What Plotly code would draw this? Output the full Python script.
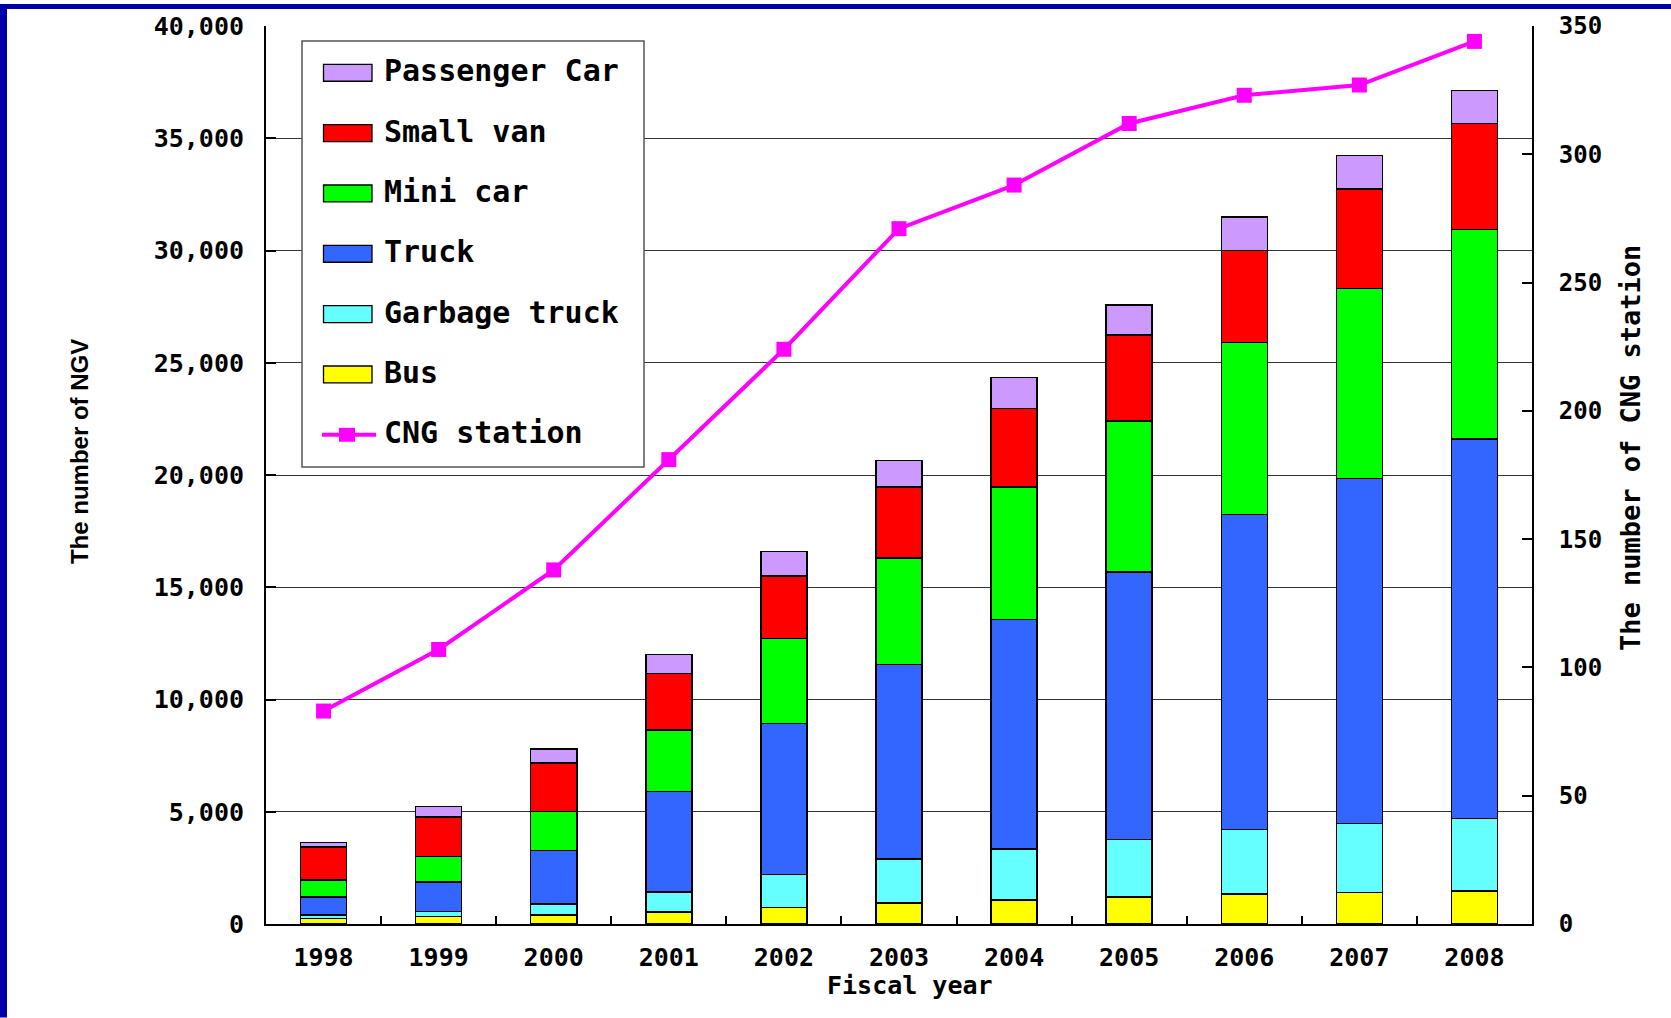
import plotly.graph_objects as go

# ---------------- data ----------------
years = ["1998", "1999", "2000", "2001", "2002", "2003", "2004", "2005", "2006", "2007", "2008"]

bus = [250, 325, 400, 533, 725, 932, 1065, 1198, 1331, 1406, 1465]
garbage_truck = [150, 222, 488, 887, 1479, 1953, 2278, 2560, 2886, 3077, 3225]
truck = [813, 1332, 2397, 4480, 6726, 8685, 10217, 11932, 14023, 15367, 16910]
mini_car = [740, 1139, 1731, 2740, 3780, 4730, 5910, 6720, 7660, 8460, 9330]
small_van = [1479, 1745, 2154, 2510, 2790, 3170, 3500, 3830, 4100, 4440, 4720]
passenger_car = [193, 474, 620, 850, 1090, 1180, 1380, 1340, 1500, 1480, 1470]
cng_station = [83, 107, 138, 181, 224, 271, 288, 312, 323, 327, 344]

bar_names = ["Bus", "Garbage truck", "Truck", "Mini car", "Small van", "Passenger Car"]
bar_values = [bus, garbage_truck, truck, mini_car, small_van, passenger_car]
bar_colors = ["#FFFF00", "#66FFFF", "#3366FF", "#00FF00", "#FF0000", "#CC99FF"]
line_name = "CNG station"
line_color = "#FF00FF"

left_ticks = [0, 5000, 10000, 15000, 20000, 25000, 30000, 35000, 40000]
right_ticks = [0, 50, 100, 150, 200, 250, 300, 350]

# ---------------- layout geometry (pixels) ----------------
W, H = 1671, 1018
L, R, T, B = 266, 139, 22, 94
PW, PH = W - L - R, H - T - B


def px(x):
    return (x - L) / PW


def py(y):
    return (H - B - y) / PH


MONO = "DejaVu Sans Mono"

fig = go.Figure()
for name, vals, color in zip(bar_names, bar_values, bar_colors):
    fig.add_trace(go.Bar(
        x=years, y=vals, name=name,
        marker=dict(color=color, line=dict(color="black", width=1.5)),
        showlegend=False,
    ))

fig.add_trace(go.Scatter(
    x=years, y=cng_station, name=line_name, yaxis="y2",
    mode="lines+markers",
    line=dict(color=line_color, width=4),
    marker=dict(symbol="square", size=15, color=line_color),
    showlegend=False,
))

shapes = []
annotations = []

# blue frame strips
shapes.append(dict(type="rect", xref="paper", yref="paper",
                   x0=px(0), x1=px(7), y0=py(H), y1=py(0),
                   fillcolor="#0000AA", line=dict(width=0), layer="above"))
shapes.append(dict(type="rect", xref="paper", yref="paper",
                   x0=px(0), x1=px(W), y0=py(5), y1=py(0),
                   fillcolor="#0000AA", line=dict(width=0), layer="above"))

# manual legend box
shapes.append(dict(type="rect", xref="paper", yref="paper",
                   x0=px(302), x1=px(644), y0=py(465), y1=py(37),
                   fillcolor="white", line=dict(color="#555555", width=1.5), layer="above"))

legend_items = list(zip(bar_names[::-1], bar_colors[::-1])) + [(line_name, line_color)]
row0, step = 69, 60.6
for i, (name, color) in enumerate(legend_items):
    cy = row0 + i * step
    if name == line_name:
        shapes.append(dict(type="line", xref="paper", yref="paper",
                           x0=px(322), x1=px(376), y0=py(cy), y1=py(cy),
                           line=dict(color=color, width=4), layer="above"))
        shapes.append(dict(type="rect", xref="paper", yref="paper",
                           x0=px(339), x1=px(355), y0=py(cy + 7), y1=py(cy - 7),
                           fillcolor=color, line=dict(width=0), layer="above"))
    else:
        shapes.append(dict(type="rect", xref="paper", yref="paper",
                           x0=px(323.5), x1=px(372), y0=py(cy + 8.5), y1=py(cy - 8.5),
                           fillcolor=color, line=dict(color="black", width=1.3), layer="above"))
    annotations.append(dict(xref="paper", yref="paper", x=px(382), y=py(cy - 2),
                            xanchor="left", yanchor="middle", showarrow=False,
                            text=name,
                            font=dict(family=MONO, size=30, color="black", weight="bold")))

# axis titles
annotations.append(dict(xref="paper", yref="paper", x=px(79), y=py(450),
                        text="The number of NGV", textangle=-90, showarrow=False,
                        xanchor="center", yanchor="middle",
                        font=dict(family="Liberation Sans", size=24, color="black", weight="bold")))
annotations.append(dict(xref="paper", yref="paper", x=px(1630), y=py(446),
                        text="The number of CNG station", textangle=-90, showarrow=False,
                        xanchor="center", yanchor="middle",
                        font=dict(family=MONO, size=27, color="black", weight="bold")))
annotations.append(dict(xref="paper", yref="paper", x=px(910), y=py(986),
                        text="Fiscal year", showarrow=False,
                        xanchor="center", yanchor="middle",
                        font=dict(family=MONO, size=25, color="black", weight="bold")))

fig.update_layout(
    width=W, height=H,
    margin=dict(l=L, r=R, t=T, b=B, pad=0),
    paper_bgcolor="white", plot_bgcolor="white",
    barmode="stack", bargap=0.6,
    showlegend=False,
    shapes=shapes, annotations=annotations,
    xaxis=dict(
        type="category", range=[-0.5, len(years) - 0.5],
        showline=True, linecolor="black", linewidth=2,
        ticks="inside", ticklen=8, tickwidth=2, tickcolor="black",
        tickson="boundaries", showgrid=False, zeroline=False,
        tickfont=dict(family=MONO, size=25, color="black", weight="bold"),
        ticklabelstandoff=10,
    ),
    yaxis=dict(
        range=[0, 40000], tickvals=left_ticks, tickformat=",",
        showgrid=True, gridcolor="#333333", gridwidth=1,
        showline=True, linecolor="black", linewidth=2,
        ticks="inside", ticklen=10, tickwidth=2, tickcolor="black",
        zeroline=False,
        tickfont=dict(family=MONO, size=25, color="black", weight="bold"),
        ticklabelstandoff=15,
    ),
    yaxis2=dict(
        overlaying="y", side="right", range=[0, 350], tickvals=right_ticks,
        showgrid=False, zeroline=False,
        showline=True, linecolor="black", linewidth=2,
        ticks="inside", ticklen=10, tickwidth=2, tickcolor="black",
        tickfont=dict(family=MONO, size=24, color="black", weight="bold"),
        ticklabelstandoff=20,
    ),
)

fig.write_html(
    "out.html",
    config={"displayModeBar": False},
    post_script="document.body.style.margin='0';document.body.style.overflow='hidden';",
)
